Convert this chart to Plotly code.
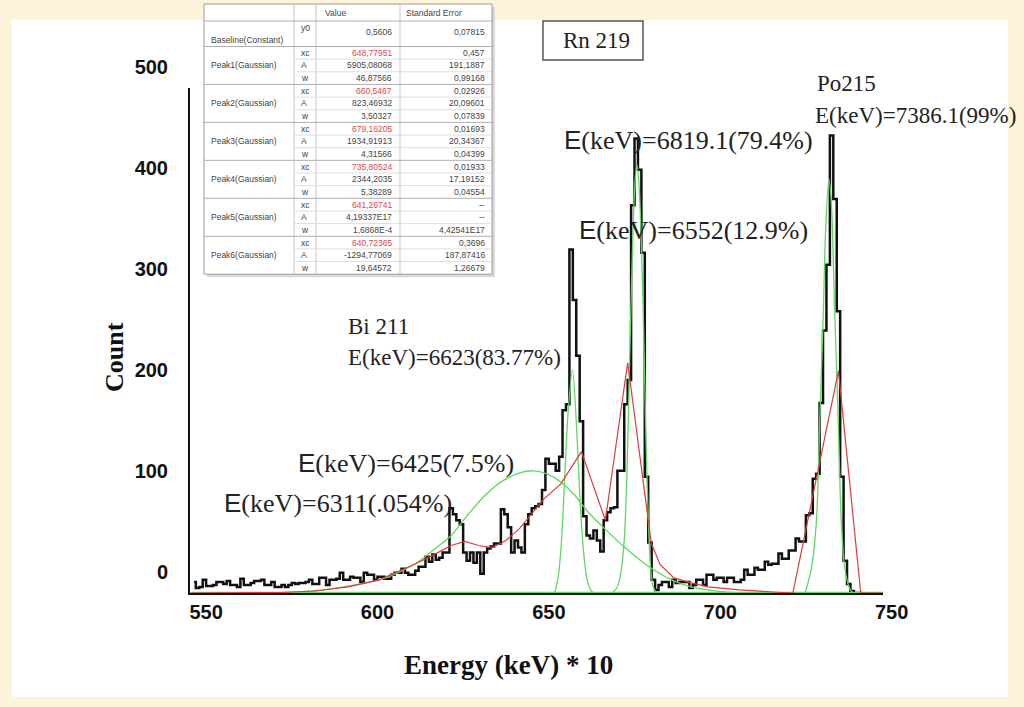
import plotly.graph_objects as go

# ---- spectrum: counts per energy bin (Energy (keV) * 10) ----
energy = list(range(550, 746))
counts = [
    11, 5, 6, 13, 7, 7, 8, 11, 11, 9,          # 550-559
    12, 8, 8, 6, 14, 8, 8, 10, 12, 12,         # 560-569
    13, 8, 8, 11, 6, 6, 8, 6, 8, 10,           # 570-579
    9, 10, 10, 11, 13, 9, 9, 15, 15, 8,        # 580-589
    13, 13, 14, 20, 13, 13, 16, 15, 15, 11,    # 590-599
    20, 18, 18, 13, 16, 16, 14, 14, 18, 20,    # 600-609
    20, 24, 20, 18, 18, 22, 26, 26, 36, 31,    # 610-619
    38, 33, 35, 40, 40, 84, 78, 72, 68, 40,    # 620-629
    32, 40, 30, 40, 19, 40, 44, 46, 49, 49,    # 630-639
    83, 78, 65, 40, 52, 45, 40, 68, 78, 84,    # 640-649
    86, 88, 102, 133, 128, 128, 121, 135, 181, 187,   # 650-659
    340, 290, 235, 170, 76, 57, 54, 62, 52, 41,       # 660-669
    72, 80, 84, 85, 121, 121, 187, 211, 384, 450,     # 670-679
    419, 337, 115, 50, 13, 3, 8, 11, 11, 6,           # 680-689
    13, 10, 11, 11, 11, 5, 8, 13, 13, 8,              # 690-699
    18, 18, 13, 15, 15, 11, 15, 15, 11, 11,           # 700-709
    13, 23, 18, 18, 25, 23, 23, 31, 28, 29,           # 710-719
    29, 39, 34, 34, 42, 42, 54, 51, 51, 77,           # 720-729
    79, 113, 118, 188, 260, 325, 453, 390, 279, 115,  # 730-739
    32, 9, 2, 0, 0, 0,                                # 740-745
]

# ---- fitted Gaussian components (green) ----
g1_x = [575, 580, 585, 590, 595, 600, 605, 610, 615, 620, 625, 630, 635, 640, 645, 649,
        653, 657, 661, 665, 670, 675, 680, 685, 690, 695, 700, 705, 710]
g1_y = [0, 1, 2, 4, 7, 10, 14, 21, 30, 43, 57, 78, 97, 111, 119, 121,
        118, 110, 97, 80, 63, 47, 33, 21, 12, 6, 3, 1, 0]
g2_x = [655.2, 656.2, 657.2, 658.2, 659.1, 660.4, 661.6, 662.5, 663.5, 664.5, 665.4, 666.4]
g2_y = [0, 15, 52, 119, 178, 221, 164, 99, 46, 16, 5, 0]
g3_x = [672.0, 673.5, 674.5, 675.5, 676.3, 677.1, 677.9, 678.6, 679.2, 679.8, 680.5,
        681.1, 681.6, 682.1, 682.6, 683.1, 683.8, 684.8]
g3_y = [0, 6, 20, 52, 119, 234, 340, 405, 424, 405, 345, 270, 190, 119, 66, 30, 8, 0]
g4_x = [728.3, 730.2, 731.6, 732.6, 733.6, 734.2, 735.2, 735.9, 736.9, 737.9, 738.8,
        739.8, 741.2, 742.2]
g4_y = [0, 26, 73, 176, 279, 354, 410, 388, 279, 176, 73, 26, 5, 0]
baseline_y0 = 0.5606

# ---- cumulative fit (red) ----
red_x = [549, 575, 585, 595, 604, 610, 614, 620, 625, 629, 633, 637, 641, 645, 649, 652,
         657, 663, 670, 676.5, 683.4, 686, 690, 695, 700, 709, 719, 724.7, 738, 744.5, 751]
red_y = [0, 0.5, 2, 6, 13, 22, 28, 38, 47, 51, 47, 45, 52, 64, 80, 93,
         108, 140, 72, 228, 49, 28, 15, 10, 6, 3, 1, 0, 220, 0, 0]

# ---- fit parameter table ----
tbl_groups = ["Baseline(Constant)", "Peak1(Gaussian)", "Peak2(Gaussian)", "Peak3(Gaussian)",
              "Peak4(Gaussian)", "Peak5(Gaussian)", "Peak6(Gaussian)"]
tbl_params = [["y0"], ["xc", "A", "w"], ["xc", "A", "w"], ["xc", "A", "w"],
              ["xc", "A", "w"], ["xc", "A", "w"], ["xc", "A", "w"]]
tbl_values = [["0,5606"],
              ["648,77951", "5905,08068", "46,87566"],
              ["660,5467", "823,46932", "3,50327"],
              ["679,16205", "1934,91913", "4,31566"],
              ["735,80524", "2344,2035", "5,38289"],
              ["641,26741", "4,19337E17", "1,6868E-4"],
              ["640,72365", "-1294,77069", "19,64572"]]
tbl_errors = [["0,07815"],
              ["0,457", "191,1887", "0,99168"],
              ["0,02926", "20,09601", "0,07839"],
              ["0,01693", "20,34367", "0,04399"],
              ["0,01933", "17,19152", "0,04554"],
              ["--", "--", "4,42541E17"],
              ["0,3696", "187,87416", "1,26679"]]

# ---- figure geometry (pixels) ----
W, H = 1024, 707
L, R, T, B = 190, 883, 88, 593


def xp(px):
    return (px - L) / (R - L)


def yp(py):
    return (B - py) / (B - T)


GREEN = "#5fd85f"
RED = "#dd3b3b"
SERIF = "Liberation Serif"

fig = go.Figure()

fig.add_trace(go.Scatter(x=energy, y=counts, mode="lines",
                         line=dict(color="#111111", width=2.5, shape="hvh"),
                         hoverinfo="x+y", name="Counts"))
fig.add_trace(go.Scatter(x=[549, 751], y=[baseline_y0, baseline_y0], mode="lines",
                         line=dict(color=GREEN, width=1.5), name="y0"))
for gx, gy in ((g1_x, g1_y), (g2_x, g2_y), (g3_x, g3_y), (g4_x, g4_y)):
    fig.add_trace(go.Scatter(x=gx, y=gy, mode="lines",
                             line=dict(color=GREEN, width=1.3, shape="spline", smoothing=0.8),
                             name="Gaussian"))
fig.add_trace(go.Scatter(x=red_x, y=red_y, mode="lines",
                         line=dict(color=RED, width=1.2), name="Fit"))

shapes = []
annotations = []

# white page on a cream border
shapes.append(dict(type="rect", xref="paper", yref="paper", layer="below",
                   x0=xp(12), x1=xp(1008), y0=yp(20), y1=yp(697),
                   fillcolor="white", line=dict(width=0)))

# ---- table ----
tx0, tx1 = 204, 492
c1, c2, c3 = 294, 316, 400
ty0, ty_head, ty_base = 4, 21, 46.5
row_h = 12.65
ty1 = ty_base + row_h * 18
shapes.append(dict(type="rect", xref="paper", yref="paper", layer="above",
                   x0=xp(tx0 + 3), x1=xp(tx1 + 3), y0=yp(ty0 + 3), y1=yp(ty1 + 3),
                   fillcolor="#d9d9d9", line=dict(width=0)))
shapes.append(dict(type="rect", xref="paper", yref="paper", layer="above",
                   x0=xp(tx0), x1=xp(tx1), y0=yp(ty0), y1=yp(ty1),
                   fillcolor="white", line=dict(color="#9a9a9a", width=1)))
for cx in (c1, c2, c3):
    shapes.append(dict(type="line", xref="paper", yref="paper", layer="above",
                       x0=xp(cx), x1=xp(cx), y0=yp(ty0), y1=yp(ty1),
                       line=dict(color="#c8c8c8", width=1)))
shapes.append(dict(type="line", xref="paper", yref="paper", layer="above",
                   x0=xp(tx0), x1=xp(tx1), y0=yp(ty_head), y1=yp(ty_head),
                   line=dict(color="#b0b0b0", width=1)))

TF = dict(family="Liberation Sans", size=8.5, color="#444444")
TR = dict(family="Liberation Sans", size=8.5, color="#e04848")
annotations.append(dict(xref="paper", yref="paper", x=xp(c2 + 7), y=yp(12.5), text="Value",
                        showarrow=False, xanchor="left", yanchor="middle", font=TF))
annotations.append(dict(xref="paper", yref="paper", x=xp(c3 + 4), y=yp(12.5),
                        text="Standard Error", showarrow=False, xanchor="left",
                        yanchor="middle", font=TF))

# baseline row
annotations.append(dict(xref="paper", yref="paper", x=xp(tx0 + 5), y=yp(40), text=tbl_groups[0],
                        showarrow=False, xanchor="left", yanchor="middle", font=TF))
annotations.append(dict(xref="paper", yref="paper", x=xp(c1 + 5), y=yp(28.5), text=tbl_params[0][0],
                        showarrow=False, xanchor="left", yanchor="middle", font=TF))
annotations.append(dict(xref="paper", yref="paper", x=xp(c3 - 6), y=yp(32), text=tbl_values[0][0],
                        showarrow=False, xanchor="right", yanchor="middle", font=TF))
annotations.append(dict(xref="paper", yref="paper", x=xp(tx1 - 5), y=yp(32), text=tbl_errors[0][0],
                        showarrow=False, xanchor="right", yanchor="middle", font=TF))
shapes.append(dict(type="line", xref="paper", yref="paper", layer="above",
                   x0=xp(tx0), x1=xp(tx1), y0=yp(ty_base), y1=yp(ty_base),
                   line=dict(color="#b0b0b0", width=1)))

for g in range(1, 7):
    top = ty_base + row_h * 3 * (g - 1)
    annotations.append(dict(xref="paper", yref="paper", x=xp(tx0 + 5), y=yp(top + row_h * 1.5),
                            text=tbl_groups[g], showarrow=False, xanchor="left",
                            yanchor="middle", font=TF))
    for r in range(3):
        rt = top + row_h * r
        cy = rt + row_h / 2
        annotations.append(dict(xref="paper", yref="paper", x=xp(c1 + 5), y=yp(cy),
                                text=tbl_params[g][r], showarrow=False, xanchor="left",
                                yanchor="middle", font=TF))
        annotations.append(dict(xref="paper", yref="paper", x=xp(c3 - 6), y=yp(cy),
                                text=tbl_values[g][r], showarrow=False, xanchor="right",
                                yanchor="middle", font=TR if r == 0 else TF))
        annotations.append(dict(xref="paper", yref="paper", x=xp(tx1 - 5), y=yp(cy),
                                text=tbl_errors[g][r], showarrow=False, xanchor="right",
                                yanchor="middle", font=TF))
        if r > 0:
            shapes.append(dict(type="line", xref="paper", yref="paper", layer="above",
                               x0=xp(c1), x1=xp(tx1), y0=yp(rt), y1=yp(rt),
                               line=dict(color="#dedede", width=1)))
    if g < 6:
        bt = top + row_h * 3
        shapes.append(dict(type="line", xref="paper", yref="paper", layer="above",
                           x0=xp(tx0), x1=xp(tx1), y0=yp(bt), y1=yp(bt),
                           line=dict(color="#b0b0b0", width=1)))

# ---- isotope box ----
shapes.append(dict(type="rect", xref="paper", yref="paper", layer="above",
                   x0=xp(543), x1=xp(643), y0=yp(21), y1=yp(60),
                   fillcolor="white", line=dict(color="#555555", width=1.5)))
annotations.append(dict(xref="paper", yref="paper", x=xp(596), y=yp(41), text="Rn 219",
                        showarrow=False, xanchor="center", yanchor="middle",
                        font=dict(family=SERIF, size=23, color="#222222")))

# ---- peak labels ----
E_SANS = '<span style="font-family:Liberation Sans">E</span>'
LAB = dict(family=SERIF, size=26, color="#222222")
LAB2 = dict(family=SERIF, size=23, color="#222222")
peak_labels = [
    (562, 140, E_SANS + "(keV)=6819.1(79.4%)", LAB),
    (577, 230, E_SANS + "(keV)=6552(12.9%)", LAB),
    (296, 463, E_SANS + "(keV)=6425(7.5%)", LAB),
    (222, 503, E_SANS + "(keV)=6311(.054%)", LAB),
    (346, 326, "Bi 211", LAB2),
    (346, 357, "E(keV)=6623(83.77%)", LAB2),
    (815, 83, "Po215", LAB2),
    (813, 115, "E(keV)=7386.1(99%)", LAB2),
]
for px, py, txt, fnt in peak_labels:
    annotations.append(dict(xref="paper", yref="paper", x=xp(px), y=yp(py), text=txt,
                            showarrow=False, xanchor="left", yanchor="middle", font=fnt))

# ---- axis titles ----
annotations.append(dict(xref="paper", yref="paper", x=xp(508), y=yp(665),
                        text="Energy (keV) * 10", showarrow=False, xanchor="center",
                        yanchor="middle",
                        font=dict(family=SERIF, size=27, color="#111111", weight="bold")))
annotations.append(dict(xref="paper", yref="paper", x=xp(114), y=yp(357), text="Count",
                        showarrow=False, xanchor="center", yanchor="middle", textangle=-90,
                        font=dict(family=SERIF, size=26, color="#111111", weight="bold")))

fig.update_layout(
    width=W, height=H,
    margin=dict(l=L, r=W - R, t=T, b=H - B, pad=0),
    paper_bgcolor="#fdf3d8",
    plot_bgcolor="rgba(0,0,0,0)",
    showlegend=False,
    shapes=shapes,
    annotations=annotations,
    xaxis=dict(range=[548.8, 751], tickvals=[550, 600, 650, 700, 750],
               showgrid=False, zeroline=False, showline=True, linecolor="#111111",
               linewidth=2, ticks="", layer="below traces",
               ticklabelshift=12, ticklabelstandoff=0,
               tickfont=dict(family="Liberation Sans", size=20, color="#111111", weight="bold")),
    yaxis=dict(range=[0, 500], tickvals=[0, 100, 200, 300, 400, 500],
               showgrid=False, zeroline=False, showline=True, linecolor="#111111",
               linewidth=2, ticks="", layer="below traces",
               ticklabelshift=-21, ticklabelstandoff=16,
               tickfont=dict(family="Liberation Sans", size=20, color="#111111", weight="bold")),
)

fig.write_html("out.html")
